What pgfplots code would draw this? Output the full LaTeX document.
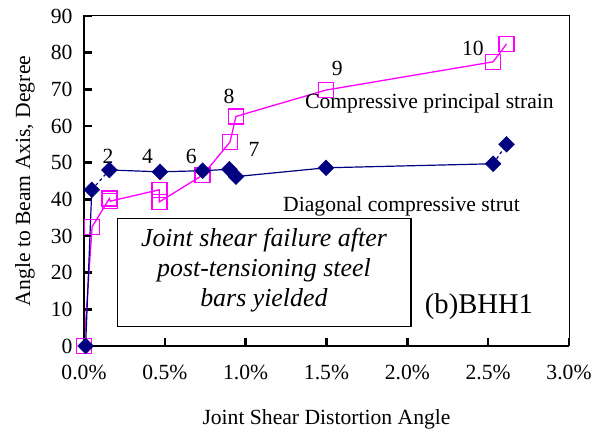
\documentclass[border=0pt]{standalone}
\usepackage{pgfplots}
\pgfplotsset{compat=1.18}
\usepackage{fontspec}
\setmainfont{Liberation Serif}
\definecolor{navyb}{RGB}{0,0,128}
\definecolor{mag}{RGB}{255,0,255}
\begin{document}
\begin{tikzpicture}
\begin{axis}[name=ax,
 width=485bp, height=330bp, scale only axis,
 xmin=0, xmax=3, ymin=0, ymax=90,
 xtick={0,0.5,1,1.5,2,2.5,3}, ytick={0,10,...,90},
 xticklabels={0.0\%,0.5\%,1.0\%,1.5\%,2.0\%,2.5\%,3.0\%},
 xtick pos=bottom, ytick pos=left, tick align=inside,
 major tick length=8bp,
 tick style={line width=2.5bp, black},
 axis line style={line width=1bp},
 font=\fontsize{21.7}{26}\selectfont,
 /pgf/number format/assume math mode=true,
 xticklabel style={yshift=-16bp},
 yticklabel style={xshift=-8bp},
 xlabel={Joint Shear Distortion Angle},
 ylabel={Angle to Beam Axis, Degree},
 xlabel style={at={(axis description cs:0.5,-0.2394)}, anchor=base},
 ylabel style={at={(axis description cs:-0.1216,0.5)}, anchor=center, rotate=0},
 clip=false,
]
% magenta: compressive principal strain
\addplot[mag, line width=1.3bp, mark=square, mark size=7.5bp, mark options={solid, line width=1.5bp}] coordinates {
 (0,0) (0.05,32.5) (0.157,40.2) (0.162,39.5) (0.466,42.6) (0.466,39.3)
 (0.734,46.6) (0.903,55.6) (0.94,62.6) (1.497,69.8) (2.531,77.5) (2.614,82.4)};
% navy: diagonal compressive strut
\addplot[navyb, line width=1.2bp, no marks] coordinates {(0.01,0) (0.048,42.6)};
\addplot[navyb, line width=1.2bp, no marks, dashed] coordinates {(0.048,42.6) (0.157,48.0)};
\addplot[navyb, line width=1.2bp, no marks] coordinates {(0.157,48.0) (0.47,47.5) (0.734,47.8) (0.899,48.2)};
\addplot[navyb, line width=1.2bp, no marks, dashed] coordinates {(0.899,48.2) (0.94,46.2)};
\addplot[navyb, line width=1.2bp, no marks] coordinates {(0.94,46.2) (1.497,48.6) (2.531,49.7)};
\addplot[navyb, line width=1.2bp, no marks, dashed] coordinates {(2.531,49.7) (2.614,55.0)};
\addplot[only marks, mark=square*, mark size=5.6bp, mark options={rotate=45, fill=navyb, draw=navyb}] coordinates {
 (0.01,0) (0.048,42.6) (0.157,48.0) (0.47,47.5) (0.734,47.8) (0.899,48.2) (0.94,46.2) (1.497,48.6) (2.531,49.7) (2.614,55.0)};
% frame
\draw[line width=2.5bp] (rel axis cs:0,1) -- (rel axis cs:0,0) -- (rel axis cs:1,0);
% annotations
\node[anchor=base] at (axis cs:0.148,49.8) {2};
\node[anchor=base] at (axis cs:0.393,49.8) {4};
\node[anchor=base] at (axis cs:0.664,49.8) {6};
\node[anchor=base] at (axis cs:1.052,51.8) {7};
\node[anchor=base] at (axis cs:0.897,66.0) {8};
\node[anchor=base] at (axis cs:1.567,73.8) {9};
\node[anchor=base] at (axis cs:2.406,79.1) {10};
\node[anchor=base] at (axis cs:2.137,64.8) {Compressive principal strain};
\node[anchor=base] at (axis cs:1.964,36.6) {Diagonal compressive strut};
\draw[line width=1.3bp] (axis cs:0.206,34.8) rectangle (axis cs:2.023,5.3);
\node[align=center, font=\fontsize{26}{30}\selectfont\itshape] at (axis cs:1.113,20.6) {Joint shear failure after\\post-tensioning steel\\bars yielded};
\node[anchor=base, font=\fontsize{28.7}{32}\selectfont] at (axis cs:2.443,8.9) {(b)BHH1};
\end{axis}
\path ([shift={(-84bp,-84bp)}]ax.south west) rectangle ([shift={(32bp,16bp)}]ax.north east);
\end{tikzpicture}
\end{document}
